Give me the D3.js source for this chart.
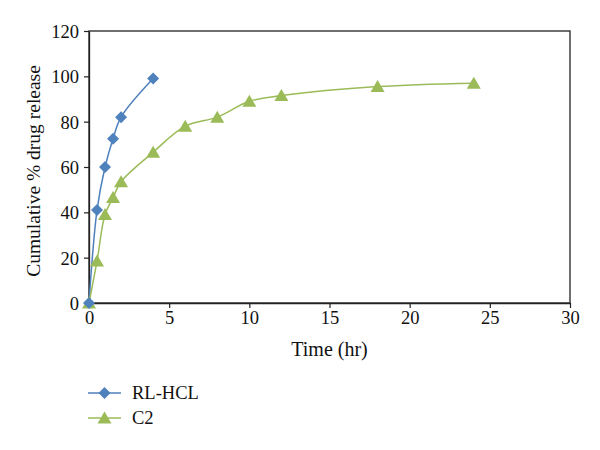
<!DOCTYPE html>
<html><head><meta charset="utf-8">
<script src="https://cdn.jsdelivr.net/npm/d3@7"></script>
<style>body{margin:0;background:#fff}svg{display:block}text{font-family:"Liberation Serif","DejaVu Serif",serif;fill:#111}</style>
</head><body>
<script>
const rlTime = [0, 0.5, 1, 1.5, 2, 4];
const rlValues = [0, 41, 60, 72.5, 82, 99];
const c2Time = [0, 0.5, 1, 1.5, 2, 4, 6, 8, 10, 12, 18, 24];
const c2Values = [0, 18.5, 39, 46.5, 53.5, 66.5, 78, 82, 89, 91.5, 95.5, 97];
const xTicks = [0, 5, 10, 15, 20, 25, 30];
const yTicks = [0, 20, 40, 60, 80, 100, 120];
const seriesNames = ["RL-HCL", "C2"];
const seriesColors = ["#4F81BD", "#9BBB59"];

const W = 600, H = 450;
const svg = d3.select("body").append("svg").attr("width", W).attr("height", H);
const L = 89, R = 570, T = 31, B = 303;
const x = d3.scaleLinear().domain([0, 30]).range([L, R]);
const y = d3.scaleLinear().domain([0, 120]).range([B, T]);

svg.append("rect").attr("x", L).attr("y", T).attr("width", R - L).attr("height", B - T)
  .attr("fill", "none").attr("stroke", "#222").attr("stroke-width", 1.3);

const xAxis = svg.append("g").attr("transform", `translate(0,${B})`)
  .call(d3.axisBottom(x).tickValues(xTicks).tickSize(5).tickSizeOuter(0).tickPadding(3));
const yAxis = svg.append("g").attr("transform", `translate(${L},0)`)
  .call(d3.axisLeft(y).tickValues(yTicks).tickSize(5).tickSizeOuter(0).tickPadding(5));
[xAxis, yAxis].forEach(a => {
  a.select(".domain").attr("stroke", "#222").attr("stroke-width", 1.3);
  a.selectAll(".tick line").attr("stroke", "#222").attr("stroke-width", 1.2);
  a.selectAll(".tick text").attr("font-family", "Liberation Serif").attr("font-size", 18.5).attr("fill", "#111");
});
yAxis.selectAll(".tick text").attr("dy", "0.35em");

svg.append("text").attr("x", (L + R) / 2).attr("y", 356).attr("text-anchor", "middle")
  .attr("font-size", 20).text("Time (hr)");
svg.append("text").attr("transform", `translate(40,${(T + B) / 2 + 4}) rotate(-90)`)
  .attr("text-anchor", "middle").attr("font-size", 19.5).text("Cumulative % drug release");

const line = d3.line().x(d => x(d[0])).y(d => y(d[1])).curve(d3.curveCatmullRom.alpha(0.5));
const rl = rlTime.map((t, i) => [t, rlValues[i]]);
const c2 = c2Time.map((t, i) => [t, c2Values[i]]);

const diamond = "M0,-6L6,0L0,6L-6,0Z";
const tri = "M0,-6.5L7,5.5L-7,5.5Z";

svg.append("path").datum(rl).attr("d", line).attr("fill", "none").attr("stroke", seriesColors[0]).attr("stroke-width", 1.5);
svg.append("path").datum(c2).attr("d", line).attr("fill", "none").attr("stroke", seriesColors[1]).attr("stroke-width", 1.5);

svg.selectAll(".c2m").data(c2).enter().append("path")
  .attr("transform", d => `translate(${x(d[0])},${y(d[1])})`).attr("d", tri).attr("fill", seriesColors[1]);
svg.selectAll(".rlm").data(rl).enter().append("path")
  .attr("transform", d => `translate(${x(d[0])},${y(d[1])})`).attr("d", diamond).attr("fill", seriesColors[0]);

const leg = [{n: seriesNames[0], c: seriesColors[0], s: diamond, yy: 393}, {n: seriesNames[1], c: seriesColors[1], s: tri, yy: 418}];
leg.forEach(l => {
  svg.append("line").attr("x1", 88).attr("x2", 121).attr("y1", l.yy).attr("y2", l.yy).attr("stroke", l.c).attr("stroke-width", 1.5);
  svg.append("path").attr("transform", `translate(104.5,${l.yy})`).attr("d", l.s).attr("fill", l.c);
  svg.append("text").attr("x", 132).attr("y", l.yy).attr("dy", "0.35em").attr("font-size", 18.5).text(l.n);
});
</script>
</body></html>
